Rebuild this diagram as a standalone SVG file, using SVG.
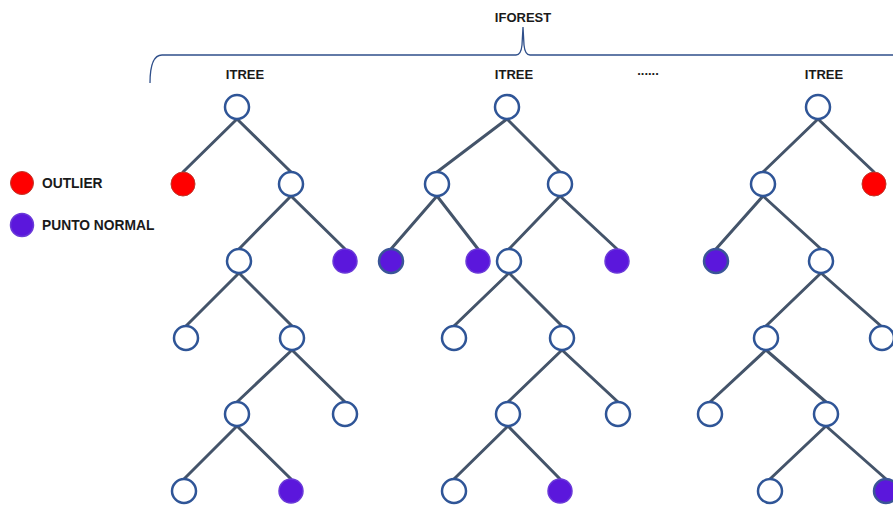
<svg xmlns="http://www.w3.org/2000/svg" width="893" height="507" viewBox="0 0 893 507">
<style>
.t{font-family:"Liberation Sans",Arial,sans-serif;font-weight:bold;font-size:13px;fill:#1a1a1a}
.lg{font-size:13.8px}
.e{stroke:#44546a;stroke-width:3;stroke-linecap:round}
.n{fill:#fff;stroke:#2f5597;stroke-width:2.5}
.p{fill:#5b17dc;stroke:#6a3ad8;stroke-width:1.5}
.pb{fill:#5b17dc;stroke:#3a5597;stroke-width:2.5}
.r{fill:#ff0000;stroke:#c0392b;stroke-width:1}
</style>
<rect width="893" height="507" fill="#fff"/>
<g id="brace"><path d="M150,83 Q150,55 162,55 L516,55 Q521,55 522,45 L523,27 L524,45 Q525,55 530,55 L893,55" fill="none" stroke="#2f4f8a" stroke-width="1.3"/></g>
<g id="labels">
<text class="t" x="523" y="22" text-anchor="middle">IFOREST</text>
<text class="t" x="245" y="79" text-anchor="middle">ITREE</text>
<text class="t" x="514" y="79" text-anchor="middle">ITREE</text>
<text class="t" x="824" y="79" text-anchor="middle">ITREE</text>
<text class="t" x="648" y="75" text-anchor="middle" font-size="10">......</text>
</g>
<g id="legend">
<circle class="r" cx="22" cy="183" r="11.5"/>
<text class="t lg" x="42" y="188">OUTLIER</text>
<circle class="p" cx="22" cy="225" r="11.5"/>
<text class="t lg" x="42" y="230">PUNTO NORMAL</text>
</g>
<g id="connectors">
<line class="e" x1="237" y1="119" x2="183" y2="172"/>
<line class="e" x1="237" y1="119" x2="291" y2="172"/>
<line class="e" x1="291" y1="196" x2="239" y2="249"/>
<line class="e" x1="291" y1="196" x2="345" y2="249"/>
<line class="e" x1="239" y1="273" x2="186" y2="326"/>
<line class="e" x1="239" y1="273" x2="292" y2="326"/>
<line class="e" x1="292" y1="350" x2="237" y2="402"/>
<line class="e" x1="292" y1="350" x2="345" y2="402"/>
<line class="e" x1="237" y1="426" x2="184" y2="479"/>
<line class="e" x1="237" y1="426" x2="291" y2="479"/>
<line class="e" x1="507" y1="119" x2="437" y2="172"/>
<line class="e" x1="507" y1="119" x2="560" y2="172"/>
<line class="e" x1="437" y1="196" x2="391" y2="249"/>
<line class="e" x1="437" y1="196" x2="478" y2="249"/>
<line class="e" x1="560" y1="196" x2="509" y2="249"/>
<line class="e" x1="560" y1="196" x2="617" y2="249"/>
<line class="e" x1="509" y1="273" x2="454" y2="326"/>
<line class="e" x1="509" y1="273" x2="562" y2="326"/>
<line class="e" x1="562" y1="350" x2="508" y2="402"/>
<line class="e" x1="562" y1="350" x2="618" y2="402"/>
<line class="e" x1="508" y1="426" x2="454" y2="479"/>
<line class="e" x1="508" y1="426" x2="560" y2="479"/>
<line class="e" x1="818" y1="119" x2="763" y2="172"/>
<line class="e" x1="818" y1="119" x2="874" y2="172"/>
<line class="e" x1="763" y1="196" x2="716" y2="249"/>
<line class="e" x1="763" y1="196" x2="821" y2="249"/>
<line class="e" x1="821" y1="273" x2="766" y2="326"/>
<line class="e" x1="821" y1="273" x2="881" y2="326"/>
<line class="e" x1="766" y1="350" x2="710" y2="402"/>
<line class="e" x1="766" y1="350" x2="826" y2="402"/>
<line class="e" x1="826" y1="426" x2="770" y2="479"/>
<line class="e" x1="826" y1="426" x2="886" y2="479"/>
</g>
<g id="tree1">
<circle id="t1n1" class="n" cx="237" cy="107" r="12"/>
<circle id="t1n2" class="r" cx="183" cy="184" r="12"/>
<circle id="t1n3" class="n" cx="291" cy="184" r="12"/>
<circle id="t1n4" class="n" cx="239" cy="261" r="12"/>
<circle id="t1n5" class="p" cx="345" cy="261" r="12"/>
<circle id="t1n6" class="n" cx="186" cy="338" r="12"/>
<circle id="t1n7" class="n" cx="292" cy="338" r="12"/>
<circle id="t1n8" class="n" cx="237" cy="414" r="12"/>
<circle id="t1n9" class="n" cx="345" cy="414" r="12"/>
<circle id="t1n10" class="n" cx="184" cy="491" r="12"/>
<circle id="t1n11" class="p" cx="291" cy="491" r="12"/>
</g>
<g id="tree2">
<circle id="t2n1" class="n" cx="507" cy="107" r="12"/>
<circle id="t2n2" class="n" cx="437" cy="184" r="12"/>
<circle id="t2n3" class="n" cx="560" cy="184" r="12"/>
<circle id="t2n4" class="pb" cx="391" cy="261" r="12"/>
<circle id="t2n5" class="p" cx="478" cy="261" r="12"/>
<circle id="t2n6" class="n" cx="509" cy="261" r="12"/>
<circle id="t2n7" class="p" cx="617" cy="261" r="12"/>
<circle id="t2n8" class="n" cx="454" cy="338" r="12"/>
<circle id="t2n9" class="n" cx="562" cy="338" r="12"/>
<circle id="t2n10" class="n" cx="508" cy="414" r="12"/>
<circle id="t2n11" class="n" cx="618" cy="414" r="12"/>
<circle id="t2n12" class="n" cx="454" cy="491" r="12"/>
<circle id="t2n13" class="p" cx="560" cy="491" r="12"/>
</g>
<g id="tree3">
<circle id="t3n1" class="n" cx="818" cy="107" r="12"/>
<circle id="t3n2" class="n" cx="763" cy="184" r="12"/>
<circle id="t3n3" class="r" cx="874" cy="184" r="12"/>
<circle id="t3n4" class="pb" cx="716" cy="261" r="12"/>
<circle id="t3n5" class="n" cx="821" cy="261" r="12"/>
<circle id="t3n6" class="n" cx="766" cy="338" r="12"/>
<circle id="t3n7" class="n" cx="882" cy="338" r="12"/>
<circle id="t3n8" class="n" cx="710" cy="414" r="12"/>
<circle id="t3n9" class="n" cx="826" cy="414" r="12"/>
<circle id="t3n10" class="n" cx="770" cy="491" r="12"/>
<circle id="t3n11" class="pb" cx="886" cy="491" r="12"/>
</g>
</svg>
